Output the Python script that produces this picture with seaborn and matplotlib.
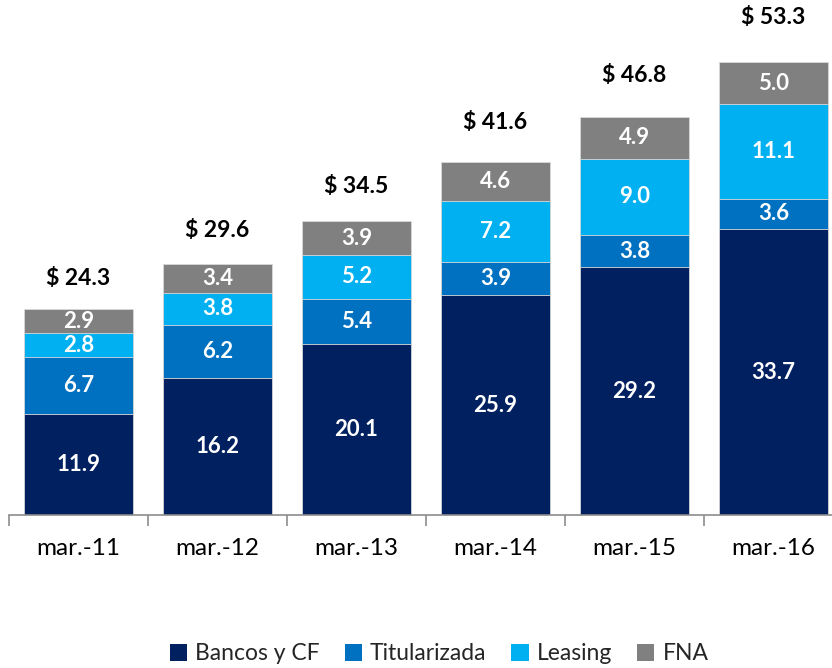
import pandas as pd
import numpy as np
import matplotlib.pyplot as plt
import seaborn as sns
from matplotlib.patches import Patch
from matplotlib.ticker import FixedLocator

periods = ["mar.-11", "mar.-12", "mar.-13", "mar.-14", "mar.-15", "mar.-16"]
bancos = [11.9, 16.2, 20.1, 25.9, 29.2, 33.7]
titularizada = [6.7, 6.2, 5.4, 3.9, 3.8, 3.6]
leasing = [2.8, 3.8, 5.2, 7.2, 9.0, 11.1]
fna = [2.9, 3.4, 3.9, 4.6, 4.9, 5.0]
totals = [24.3, 29.6, 34.5, 41.6, 46.8, 53.3]

series_names = ["Bancos y CF", "Titularizada", "Leasing", "FNA"]
series_values = [bancos, titularizada, leasing, fna]
colors = ["#002060", "#0070C0", "#00B0F0", "#808080"]

sns.set_style("white")
plt.rcParams["font.family"] = ["Lato", "DejaVu Sans"]

fig = plt.figure(figsize=(8.32, 6.68), dpi=100)
ax = fig.add_axes([9 / 832, 153 / 668, 834 / 832, 509 / 668])

# stacked bars: draw cumulative heights from top layer down
cum = np.cumsum(np.array(series_values), axis=0)
for i in range(len(series_names) - 1, -1, -1):
    df = pd.DataFrame({"period": periods, "value": cum[i]})
    sns.barplot(data=df, x="period", y="value", order=periods, color=colors[i],
                width=0.78, edgecolor="#d9d9d9", linewidth=0.6, saturation=1, ax=ax)

# segment labels
for i, vals in enumerate(series_values):
    base = cum[i] - np.array(vals)
    for j, v in enumerate(vals):
        ax.text(j, base[j] + v / 2, f"{v:.1f}", ha="center", va="center",
                color="white", fontsize=16, fontweight="bold")

# total labels
for j, t in enumerate(totals):
    off = 3.6 + (t - totals[0]) * 0.06
    ax.text(j, t + off, f"$ {t:.1f}", ha="center", va="center",
            color="black", fontsize=16.5, fontweight="bold")

ax.set_xlim(-0.5, 5.5)
ax.set_ylim(0, 60)
ax.set_xlabel("")
ax.set_ylabel("")
ax.set_yticks([])
for s in ["top", "right", "left"]:
    ax.spines[s].set_visible(False)
ax.spines["bottom"].set_color("#8c8c8c")
ax.spines["bottom"].set_linewidth(1.2)
ax.tick_params(axis="x", which="major", bottom=False, labelsize=17.5, pad=13, colors="black")
ax.xaxis.set_minor_locator(FixedLocator(np.arange(-0.5, 6, 1)))
ax.tick_params(axis="x", which="minor", bottom=True, length=8, width=1.2,
               color="#8c8c8c", direction="out")

handles = [Patch(facecolor=c, edgecolor="none") for c in colors]
fig.legend(handles, series_names, loc="center", bbox_to_anchor=(439 / 832, 1 - 654 / 668),
           ncol=4, frameon=False, fontsize=16.5, handlelength=0.75, handleheight=0.75,
           handletextpad=0.35, columnspacing=1.1, borderpad=0)

plt.savefig("out.png", dpi=100)
plt.close()
